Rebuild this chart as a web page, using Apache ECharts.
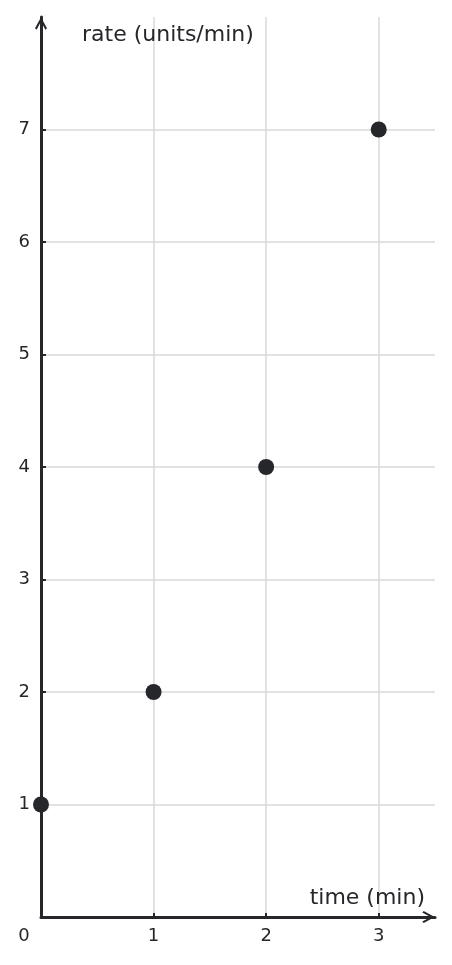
<!DOCTYPE html>
<html>
<head>
<meta charset="utf-8">
<script src="https://cdn.jsdelivr.net/npm/echarts@6/dist/echarts.min.js"></script>
<style>
  html, body { margin: 0; padding: 0; background: #ffffff; }
  #chart { width: 452px; height: 965px; }
</style>
</head>
<body>
<div id="chart"></div>
<script>
// readings
const times = [0, 1, 2, 3];
const rates = [1, 2, 4, 7];
const xTicks = [0, 1, 2, 3];
const yTicks = [0, 1, 2, 3, 4, 5, 6, 7];

const ink = '#26272b';
const gridGrey = '#d9d9d9';
const font = 'DejaVu Sans';
// open chevron used as the arrow head on both axes
const chevron = 'path://M6,0 L12,11 L10.4,12.4 L6,4.2 L1.6,12.4 L0,11 Z';

function initChart() {
  let chartDom = document.querySelector('#chart');
  let myChart = echarts.init(chartDom, null, { renderer: 'canvas' });

  let axisLine = {
    show: true,
    symbol: ['none', chevron],
    symbolSize: [12, 13],
    symbolOffset: [0, -6.5],
    lineStyle: { color: ink, width: 3 }
  };

  let option = {
    animation: false,
    backgroundColor: '#ffffff',
    grid: {
      left: 41, right: 17, top: 17, bottom: 48,
      containLabel: false,
      outerBoundsMode: 'none'
    },
    xAxis: {
      type: 'value',
      min: 0,
      max: 3.5,
      interval: 1,
      name: 'time (min)',
      nameLocation: 'end',
      nameGap: -10,
      nameMoveOverlap: false,
      nameTextStyle: {
        fontFamily: font, fontSize: 22, color: ink,
        align: 'right', verticalAlign: 'bottom',
        padding: [0, 0, 8, 0]
      },
      axisLine: axisLine,
      axisTick: {
        show: true, inside: true, length: 4,
        customValues: xTicks,
        lineStyle: { color: ink, width: 2 }
      },
      axisLabel: {
        customValues: xTicks,
        margin: 10,
        fontFamily: font, fontSize: 18, color: ink,
        formatter: (v) => v === 0 ? '{o|0}' : String(v),
        rich: {
          o: { fontFamily: font, fontSize: 18, color: ink, padding: [0, 34, 0, 0] }
        }
      },
      splitLine: {
        show: true, showMinLine: true, showMaxLine: true,
        lineStyle: { color: gridGrey, width: 1.5 }
      }
    },
    yAxis: {
      type: 'value',
      min: 0,
      max: 8,
      interval: 1,
      name: 'rate (units/min)',
      nameLocation: 'end',
      nameGap: -18,
      nameMoveOverlap: false,
      nameTextStyle: {
        fontFamily: font, fontSize: 22, color: ink,
        align: 'left', verticalAlign: 'middle',
        padding: [0, 0, 0, 41]
      },
      axisLine: axisLine,
      axisTick: {
        show: true, inside: true, length: 5,
        customValues: yTicks,
        lineStyle: { color: ink, width: 2 }
      },
      axisLabel: {
        customValues: yTicks,
        margin: 11,
        fontFamily: font, fontSize: 18, color: ink,
        formatter: (v) => v === 0 ? '' : String(v)
      },
      splitLine: {
        show: true, showMinLine: true, showMaxLine: true,
        lineStyle: { color: gridGrey, width: 1.5 }
      }
    },
    series: [
      {
        type: 'scatter',
        symbol: 'circle',
        symbolSize: 16,
        itemStyle: { color: ink, opacity: 1 },
        data: times.map((t, i) => [t, rates[i]]),
        z: 5
      }
    ]
  };

  myChart.setOption(option);
}

document.addEventListener('DOMContentLoaded', () => {
  initChart();
});
</script>
</body>
</html>
